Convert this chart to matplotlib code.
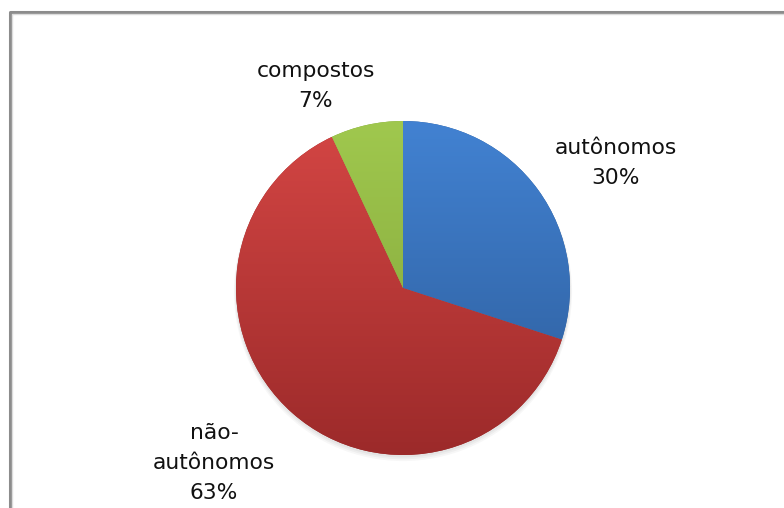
import numpy as np
import matplotlib
matplotlib.use("Agg")
import matplotlib.pyplot as plt
from matplotlib.colors import LinearSegmentedColormap
from matplotlib.patches import Circle

labels = ["autônomos", "não-\nautônomos", "compostos"]
values = [30, 63, 7]
pct_labels = ["30%", "63%", "7%"]
top_colors = ["#4282d2", "#d44644", "#a0c84e"]
bottom_colors = ["#2c5b98", "#9c2a2a", "#7ea038"]

W, H = 784, 508
fig = plt.figure(figsize=(W / 100, H / 100), dpi=100)
ax = fig.add_axes([0, 0, 1, 1])
ax.set_xlim(0, W)
ax.set_ylim(0, H)
ax.axis("off")

# chart border (left and top)
ax.plot([10.5, 10.5, W + 5], [-5, H - 12, H - 12], color="#8c8c8c", lw=2.2, solid_capstyle="butt")
ax.plot([12.5, 12.5, W + 5], [-5, H - 14, H - 14], color="#dcdcdc", lw=1.0, solid_capstyle="butt")

cx, cy, r = 403, H - 288, 167

# soft shadow
for i, a in enumerate([0.04, 0.035, 0.03]):
    ax.add_patch(Circle((cx, cy - 2 - i), r + 0.5 + i * 0.8, color="black", alpha=a, lw=0, zorder=1))

wedges, _ = ax.pie(values, startangle=90, counterclock=False, radius=r,
                   center=(cx, cy), frame=True,
                   wedgeprops=dict(linewidth=0))
ax.set_aspect("auto")
ax.axis("off")

grad = np.linspace(0, 1, 256).reshape(-1, 1)
for w, tc, bc in zip(wedges, top_colors, bottom_colors):
    w.set_zorder(2)
    w.set_facecolor(bc)
    cmap = LinearSegmentedColormap.from_list("g", [bc, tc])
    im = ax.imshow(grad, cmap=cmap, extent=(cx - r, cx + r, cy - r, cy + r),
                   origin="lower", aspect="auto", zorder=3, interpolation="bilinear")
    im.set_clip_path(w)

ax.set_xlim(0, W)
ax.set_ylim(0, H)

txt = dict(fontsize=15.7, color="#111111", ha="center", va="center",
           family="DejaVu Sans", linespacing=1.65)
ax.text(616, H - 163, labels[0] + "\n" + pct_labels[0], **txt)
ax.text(214, H - 463, labels[1] + "\n" + pct_labels[1], **txt)
ax.text(316, H - 86, labels[2] + "\n" + pct_labels[2], **txt)

fig.savefig("out.png", dpi=100, facecolor="white")
